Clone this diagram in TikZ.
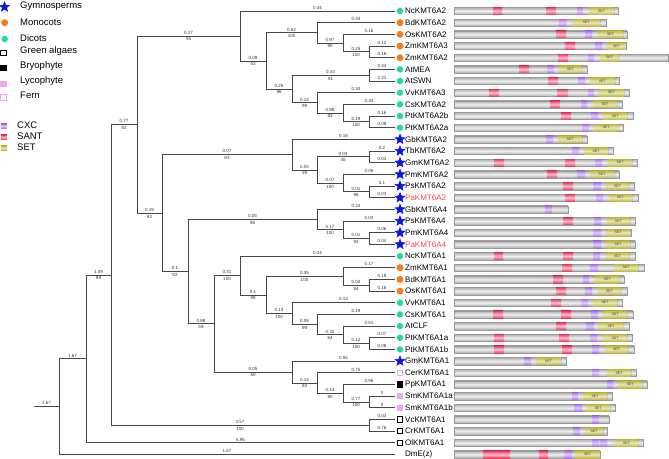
\documentclass[tikz,border=0pt]{standalone}
\usepackage{fontspec}
\setmainfont{Liberation Sans}
\usetikzlibrary{calc}
\usetikzlibrary{shapes.geometric}

\definecolor{gymnoblue}{HTML}{0A14E6}
\definecolor{monoorange}{HTML}{F57C1F}
\definecolor{dicotgreen}{HTML}{1EDC9C}
\definecolor{lycopink}{HTML}{F2A6F2}
\definecolor{palered}{HTML}{F04848}
\definecolor{santred}{HTML}{E8385E}
\definecolor{cxcpurple}{HTML}{A66EE8}
\definecolor{setolive}{HTML}{BEB842}

\tikzset{
  branch/.style={draw=black!72, line width=0.85pt},
  lenlbl/.style={above, inner sep=1.3pt, font=\fontsize{4.5}{5}\selectfont, text=black!80},
  bootlbl/.style={below, inner sep=1.3pt, font=\fontsize{4.5}{5}\selectfont, text=black!80},
  leaflbl/.style={anchor=west, inner sep=0pt, font=\fontsize{8}{10}\selectfont},
  legtext/.style={anchor=west, inner sep=0pt, font=\fontsize{9.5}{11}\selectfont},
  gymno/.style={star, star points=5, star point ratio=2.3, fill=gymnoblue, draw=gymnoblue, minimum size=10.5pt, inner sep=0pt},
  mono/.style={circle, fill=monoorange, minimum size=7pt, inner sep=0pt},
  dicot/.style={circle, fill=dicotgreen, minimum size=6.5pt, inner sep=0pt},
  alga/.style={rectangle, draw=black, fill=white, line width=0.9pt, minimum size=5.5pt, inner sep=0pt},
  bryo/.style={rectangle, fill=black, minimum size=6.5pt, inner sep=0pt},
  lyco/.style={rectangle, fill=lycopink, minimum size=6.5pt, inner sep=0pt},
  fern/.style={rectangle, draw=lycopink, fill=white, line width=0.9pt, minimum size=5.5pt, inner sep=0pt},
  nomark/.style={inner sep=0pt, minimum size=0pt},
  protein/.style={draw=black!40, line width=0.3pt, top color=black!32, bottom color=black!32, middle color=black!6},
  dombox/.style={minimum height=7.2pt, inner sep=0pt, outer sep=0pt},
  sant/.style={dombox, top color=santred, bottom color=santred, middle color=santred!30, node contents={}},
  cxc/.style={dombox, top color=cxcpurple, bottom color=cxcpurple, middle color=cxcpurple!30, node contents={}},
  setd/.style={dombox, top color=setolive, bottom color=setolive, middle color=setolive!35,
    font=\fontsize{3.6}{4}\selectfont, text=black!75, node contents=SET,
    path picture={\draw[black!70, line width=0.6pt] (path picture bounding box.north east) -- (path picture bounding box.south east);}}
}

\newcommand{\clade}[4]{\path let \p1=($(#3)!0.5!(#4)$) in coordinate (#1) at (#2pt,\y1);}
\newcommand{\br}[4]{\draw[branch] (#1) |- (#2) node[pos=0.75,lenlbl]{#3} node[pos=0.75,bootlbl]{#4};}
\newcommand{\tip}[3]{\draw[branch] (#1) |- (#2) node[pos=0.75,lenlbl]{#3};}

\begin{document}
\begin{tikzpicture}[x=1pt,y=-1pt]
\useasboundingbox (0,0) rectangle (669,458);

\node[gymno] (lg1) at (4.5,7) {};
\node[legtext] (lt1) at (20,6.5) {Gymnosperms};
\node[mono] (lg2) at (4.7,22.7) {};
\node[legtext] (lt2) at (20,22) {Monocots};
\node[dicot] (lg3) at (4.7,39) {};
\node[legtext] (lt3) at (20,38) {Dicots};
\node[alga] (lg4) at (3.5,52.7) {};
\node[legtext] (lt4) at (20,51.5) {Green algaes};
\node[bryo] (lg5) at (3.5,68) {};
\node[legtext] (lt5) at (20,66) {Bryophyte};
\node[lyco] (lg6) at (3.5,84) {};
\node[legtext] (lt6) at (20,81.5) {Lycophyte};
\node[fern] (lg7) at (3.5,97.3) {};
\node[legtext] (lt7) at (20,95.5) {Fern};
\node (lg8) at (3.8,126) [cxc, minimum width=6pt, minimum height=4.5pt];
\node[legtext] (lt8) at (17,125.5) {CXC};
\node (lg9) at (3.8,137) [sant, minimum width=6pt, minimum height=4.5pt];
\node[legtext] (lt9) at (17,136.5) {SANT};
\node (lg10) at (3.8,148) [setd, minimum width=6pt, minimum height=4.5pt, path picture={}, node contents={}];
\node[legtext] (lt10) at (17,147.5) {SET};

\foreach \lab/\mk/\col [count=\i] in {NcKMT6A2/dicot/black, BdKMT6A2/mono/black, OsKMT6A2/mono/black,
  ZmKMT6A3/mono/black, ZmKMT6A2/mono/black, AtMEA/dicot/black, AtSWN/dicot/black, VvKMT6A3/dicot/black,
  CsKMT6A2/dicot/black, PtKMT6A2b/dicot/black, PtKMT6A2a/dicot/black, GbKMT6A2/gymno/black,
  TbKMT6A2/gymno/black, GmKMT6A2/gymno/black, PmKMT6A2/gymno/black, PsKMT6A2/gymno/black,
  PaKMT6A2/gymno/palered, GbKMT6A4/gymno/black, PsKMT6A4/gymno/black, PmKMT6A4/gymno/black,
  PaKMT6A4/gymno/palered, NcKMT6A1/dicot/black, ZmKMT6A1/mono/black, BdKMT6A1/mono/black,
  OsKMT6A1/mono/black, VvKMT6A1/dicot/black, CsKMT6A1/dicot/black, AtCLF/dicot/black,
  PtKMT6A1a/dicot/black, PtKMT6A1b/dicot/black, GmKMT6A1/gymno/black, CerKMT6A1/fern/black,
  PpKMT6A1/bryo/black, SmKMT6A1a/lyco/black, SmKMT6A1b/lyco/black, VcKMT6A1/alga/black,
  CrKMT6A1/alga/black, OlKMT6A1/alga/black, DmE(z)/nomark/black}{
  \pgfmathsetmacro{\yy}{11+11.67*(\i-1)}
  \coordinate (l\i) at (395,\yy);
  \node[\mk] (m\i) at (400,\yy) {};
  \node[leaflbl, text=\col] (t\i) at (405,\yy) {\lab};
}

\clade{a1}{369}{l4}{l5}
\clade{a2}{343}{l3}{a1}
\clade{a3}{317}{l2}{a2}
\clade{a4}{369}{l6}{l7}
\clade{a5}{369}{l10}{l11}
\clade{a6}{343}{l9}{a5}
\clade{a7}{317}{l8}{a6}
\clade{a8}{292}{a4}{a7}
\clade{a9}{266}{a3}{a8}
\clade{a10}{240}{l1}{a9}
\clade{b1}{369}{l13}{l14}
\clade{b2}{369}{l16}{l17}
\clade{b3}{343}{l15}{b2}
\clade{b4}{317}{b1}{b3}
\clade{b5}{292}{l12}{b4}
\clade{c1}{369}{l20}{l21}
\clade{c2}{343}{l19}{c1}
\clade{c3}{317}{l18}{c2}
\clade{d1}{369}{l24}{l25}
\clade{d2}{343}{l23}{d1}
\clade{d3}{369}{l29}{l30}
\clade{d4}{343}{l28}{d3}
\clade{d5}{317}{l27}{d4}
\clade{d6}{292}{l26}{d5}
\clade{d7}{266}{d2}{d6}
\clade{d8}{240}{l22}{d7}
\clade{e1}{369}{l34}{l35}
\clade{e2}{343}{l33}{e1}
\clade{e3}{317}{l32}{e2}
\clade{e4}{292}{l31}{e3}
\clade{f1}{214}{d8}{e4}
\clade{f2}{188}{c3}{f1}
\clade{f3}{162}{b5}{f2}
\clade{f4}{137}{a10}{f3}
\clade{g1}{369}{l36}{l37}
\clade{f5}{111}{f4}{g1}
\clade{f6}{86}{f5}{l38}
\clade{root}{59}{f6}{l39}
\path let \p1=(root) in coordinate (base) at (34pt,\y1);

\tip{a10}{l1}{0.44}
\br{a10}{a9}{0.09}{53}
\br{a9}{a3}{0.62}{100}
\br{a9}{a8}{0.25}{96}
\tip{a3}{l2}{0.34}
\br{a3}{a2}{0.97}{90}
\tip{a2}{l3}{0.16}
\br{a2}{a1}{0.25}{100}
\tip{a1}{l4}{0.12}
\tip{a1}{l5}{0.16}
\br{a8}{a4}{0.43}{91}
\br{a8}{a7}{0.14}{99}
\tip{a4}{l6}{0.34}
\tip{a4}{l7}{0.21}
\tip{a7}{l8}{0.34}
\br{a7}{a6}{0.89}{83}
\tip{a6}{l9}{0.34}
\br{a6}{a5}{0.19}{100}
\tip{a5}{l10}{0.16}
\tip{a5}{l11}{0.08}
\br{f4}{a10}{0.17}{55}
\br{f4}{f3}{0.19}{92}
\br{f3}{b5}{0.07}{83}
\br{f3}{f2}{0.1}{92}
\tip{b5}{l12}{0.16}
\br{b5}{b4}{0.05}{59}
\br{b4}{b1}{0.03}{45}
\br{b4}{b3}{0.07}{100}
\tip{b1}{l13}{0.2}
\tip{b1}{l14}{0.04}
\tip{b3}{l15}{0.06}
\br{b3}{b2}{0.01}{96}
\tip{b2}{l16}{0.1}
\tip{b2}{l17}{0.03}
\br{f2}{c3}{0.05}{96}
\br{f2}{f1}{0.88}{59}
\tip{c3}{l18}{0.24}
\br{c3}{c2}{0.17}{100}
\tip{c2}{l19}{0.03}
\br{c2}{c1}{0.01}{93}
\tip{c1}{l20}{0.06}
\tip{c1}{l21}{0.04}
\br{f1}{d8}{0.31}{100}
\br{f1}{e4}{0.05}{50}
\tip{d8}{l22}{0.34}
\br{d8}{d7}{0.1}{99}
\br{d7}{d2}{0.35}{100}
\br{d7}{d6}{0.13}{100}
\tip{d2}{l23}{0.17}
\br{d2}{d1}{0.04}{84}
\tip{d1}{l24}{0.18}
\tip{d1}{l25}{0.16}
\tip{d6}{l26}{0.13}
\br{d6}{d5}{0.08}{99}
\tip{d5}{l27}{0.19}
\br{d5}{d4}{0.32}{64}
\tip{d4}{l28}{0.51}
\br{d4}{d3}{0.12}{100}
\tip{d3}{l29}{0.07}
\tip{d3}{l30}{0.08}
\tip{e4}{l31}{0.55}
\br{e4}{e3}{0.14}{83}
\tip{e3}{l32}{0.75}
\br{e3}{e2}{0.14}{90}
\tip{e2}{l33}{0.96}
\br{e2}{e1}{0.77}{100}
\tip{e1}{l34}{0}
\tip{e1}{l35}{0}
\br{f5}{f4}{0.77}{92}
\br{f5}{g1}{3.57}{100}
\tip{g1}{l36}{0.53}
\tip{g1}{l37}{0.76}
\br{f6}{f5}{1.09}{98}
\tip{f6}{l38}{5.96}
\tip{root}{f6}{1.67}
\tip{root}{l39}{1.67}
\draw[branch] (base) -- (root) node[midway,lenlbl]{1.67};

\foreach \i/\e/\doms in {
  1/618/{sant/493/502,sant/546/556,cxc/577/583,setd/589/614},
  2/606/{cxc/559/566,setd/572/600},
  3/627/{sant/556/566,cxc/585/592,setd/598/623},
  4/626/{sant/565/575,cxc/595/602,setd/607/626},
  5/668/{sant/558/568,cxc/588/594,setd/600/619},
  6/587/{sant/519/529,cxc/547/554,setd/559/582},
  7/619/{sant/548/558,cxc/578/585,setd/590/615},
  8/629/{sant/489/499,sant/557/568,cxc/588/594,setd/599/624},
  9/622/{sant/550/560,cxc/581/587,setd/593/617},
  10/633/{sant/561/571,cxc/591/598,setd/603/627},
  11/623/{cxc/582/589,setd/594/618},
  12/587/{cxc/546/553,setd/558/582},
  13/613/{cxc/572/579,setd/584/608},
  14/637/{sant/494/504,sant/565/575,cxc/595/602,setd/608/632},
  15/619/{sant/547/557,cxc/577/585,setd/590/614},
  16/634/{sant/563/573,cxc/593/601,setd/606/629},
  17/638/{sant/565/575,cxc/596/603,setd/609/632},
  18/568/{cxc/545/552},
  19/635/{sant/563/573,cxc/594/601,setd/607/630},
  20/631/{cxc/593/601,setd/606/630},
  21/635/{cxc/593/601,setd/606/630},
  22/635/{sant/494/503,sant/563/573,cxc/593/600,setd/606/629},
  23/644/{sant/562/572,cxc/590/598,setd/614/638},
  24/624/{sant/553/563,cxc/583/589,setd/595/619},
  25/627/{sant/556/566,cxc/585/592,setd/598/621},
  26/622/{sant/551/561,cxc/581/588,setd/593/617},
  27/633/{sant/493/503,sant/561/571,cxc/591/598,setd/603/627},
  28/629/{sant/556/566,cxc/586/594,setd/599/623},
  29/632/{sant/494/504,sant/559/569,cxc/590/597,setd/603/627},
  30/634/{sant/494/504,sant/562/572,cxc/592/599,setd/605/628},
  31/566/{cxc/524/531,setd/536/561},
  32/636/{cxc/592/599,setd/607/631},
  33/647/{cxc/607/613,setd/618/642},
  34/612/{cxc/572/578,setd/583/607},
  35/615/{cxc/574/582,setd/586/610},
  36/609/{cxc/592/599},
  37/607/{cxc/573/580,setd/585/603},
  38/643/{cxc/592/599,cxc/600/607,setd/615/638},
  39/600/{sant/483/510,sant/539/548,cxc/564/572,setd/575/600}}{
  \pgfmathsetmacro{\yy}{11+11.67*(\i-1)}
  \path[protein] (454,{\yy-3.6}) rectangle (\e,{\yy+3.6});
  \foreach \k/\a/\b in \doms {
    \node (p\i-\a) at ({(\a+\b)/2},\yy) [\k, minimum width={(\b-\a)*1pt}];
  }
}
\end{tikzpicture}
\end{document}
